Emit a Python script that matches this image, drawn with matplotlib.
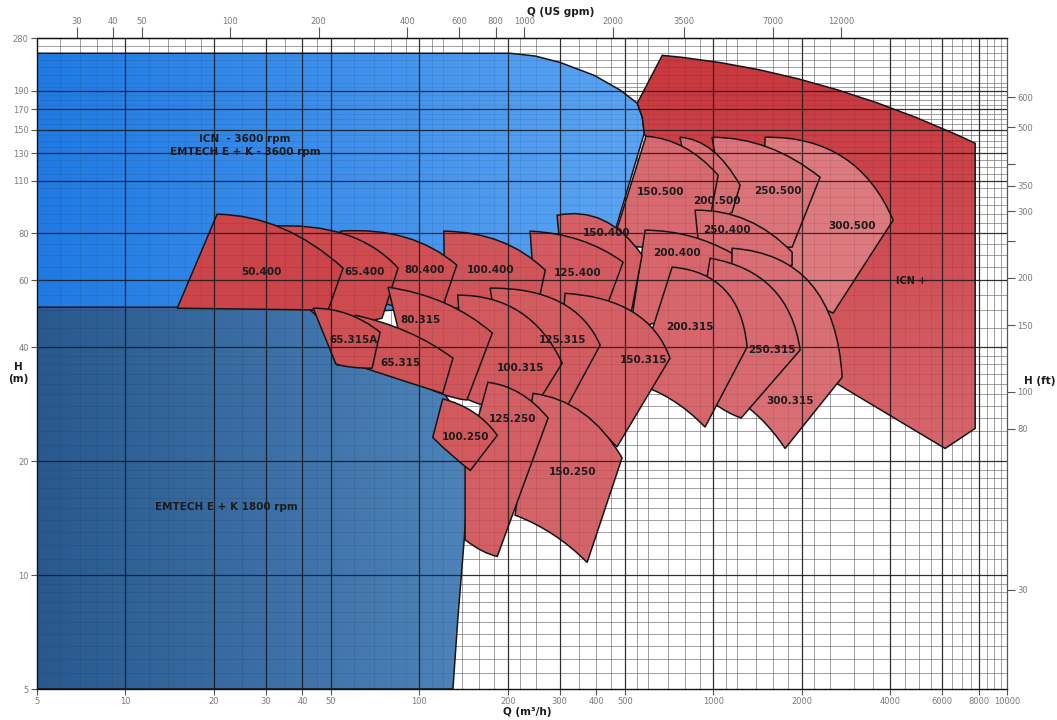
import numpy as np
import matplotlib
matplotlib.use("Agg")
import matplotlib.pyplot as plt
from matplotlib.path import Path
from matplotlib.patches import PathPatch
from matplotlib.ticker import NullLocator

# ---- pump ranges, flow Q in m3/h, head H in m ----
# each outline: top-left corner, middle of the top curve, top-right corner,
# bottom-right corner, middle of the bottom curve, bottom-left corner
zone_names = ["300.500", "250.500", "200.500", "150.500",
              "250.400", "200.400", "150.400", "125.400", "100.400", "80.400", "65.400", "50.400",
              "300.315", "250.315", "200.315", "150.315", "125.315", "100.315", "80.315", "65.315", "65.315A",
              "150.250", "125.250", "100.250"]

zone_top_left = [(1500, 143.4), (990, 143.4), (770, 143.4), (590, 144.3),
                 (867, 92.0), (586, 81.5), (294, 89.2), (238, 81.0), (121, 81.0), (53.7, 81.0), (31.0, 83.5), (20.5, 89.8),
                 (1158, 73.0), (975, 68.7), (724, 65.1), (313, 55.5), (174, 57.3), (135, 54.9), (78.2, 57.6), (60.4, 48.6), (43.5, 50.7),
                 (243.5, 30.2), (171, 32.3), (120, 29.2)]
zone_top_mid = [(2763, 127.0), (1535, 134.9), (990, 132.5), (795, 134.9),
                (1302, 86.6), (833, 78.6), (422, 86.6), (352, 76.7), (188, 76.2), (89.3, 78.1), (55.8, 79.5), (34.1, 82.5),
                (2150, 58.7), (1584, 57.3), (1096, 56.6), (533, 49.5), (301, 52.6), (220, 49.5), (122, 52.3), (91.5, 43.8), (57.2, 48.9),
                (360, 26.8), (220, 30.2), (153, 26.9)]
zone_top_right = [(4088, 86.6), (2307, 112.4), (1233, 107.1), (1038, 113.8),
                  (1853, 71.3), (1158, 70.8), (572, 70.0), (493, 67.1), (268, 63.9), (134, 65.9), (84.6, 64.7), (55.0, 64.7),
                  (2742, 33.3), (1973, 39.3), (1302, 40.0), (712, 37.4), (412, 40.5), (306, 36.3), (177, 43.6), (130, 37.4), (73.5, 43.8),
                  (489, 20.4), (274, 26.0), (184, 23.4)]
zone_bottom_right = [(2555, 49.2), (1853, 73.5), (1158, 90.9), (960, 82.5),
                     (1853, 65.9), (1167, 67.1), (521, 47.7), (435, 51.6), (257, 54.9), (120, 51.3), (74.6, 47.7), (48.9, 50.1),
                     (1754, 21.6), (1243, 26.0), (937, 24.6), (470, 21.8), (313, 27.3), (238, 26.5), (145, 29.0), (120, 30.2), (69.0, 35.2),
                     (372, 10.8), (184, 11.2), (149, 18.9)]
zone_bottom_mid = [(1897, 56.6), (1442, 76.7), (990, 85.5), (770, 74.4),
                   (1333, 63.9), (833, 51.6), (412, 49.5), (325, 51.6), (188, 53.2), (92.9, 50.7), (59.0, 46.6), (27.2, 50.4),
                   (1442, 26.0), (1014, 28.3), (724, 29.0), (366, 25.7), (247, 29.0), (185, 27.3), (117.5, 30.2), (89.3, 32.5), (59.0, 35.4),
                   (285, 12.8), (163, 11.6), (129, 20.7)]
zone_bottom_left = [(1442, 70.0), (1096, 89.2), (880, 85.5), (452, 74.4),
                    (901, 67.9), (521, 44.4), (313, 53.2), (247, 53.2), (122.2, 50.1), (73.5, 52.6), (45.9, 47.7), (15.0, 50.7),
                    (1140, 29.9), (833, 32.7), (542, 32.1), (289, 27.3), (196, 30.8), (143, 29.3), (92.9, 33.1), (63.8, 35.4), (52.0, 36.1),
                    (211.5, 14.4), (143, 12.4), (111, 23.1)]
zone_left_mid = [None] * 22 + [(143, 19.5), None]
zone_label_at = [(2965, 83.5), (1661, 103.3), (1030, 97.2), (659, 102.6),
                 (1113, 81.5), (753, 70.8), (432, 80.0), (346, 62.7), (174, 63.9), (104.5, 63.9), (65.3, 63.1), (29.1, 63.1),
                 (1824, 28.8), (1584, 39.3), (833, 45.2), (577, 37.0), (308, 41.7), (220, 35.2), (100.5, 47.1), (86, 36.3), (59.5, 41.7),
                 (333, 18.7), (207, 25.8), (143, 23.1)]

# ICN+ envelope
icn_plus_top_left = (670, 236)
icn_plus_top_mid = (2274, 198)
icn_plus_q = [7774, 7774, 6143, 2657, 1443, 659, 582, 573, 551]
icn_plus_h = [138.3, 24.4, 21.6, 31.9, 56.6, 117.3, 146.9, 161.9, 176.4]

# 3600 rpm and 1800 rpm envelopes
blue_3600_q = [5, 204, 248, 301, 393, 482, 551, 573, 582, 453, 301, 50, 5]
blue_3600_h = [239, 239, 235, 226, 209, 191, 176.4, 161.9, 146.9, 76.7, 53.2, 49, 49]
blue_1800_q = [5, 41.5, 45.2, 48.5, 50.9, 52.5, 86, 117.5, 158, 147, 142, 135, 130, 5]
blue_1800_h = [51.0, 51.0, 48.0, 43.8, 39.3, 35.9, 34.8, 31.2, 22.7, 18.9, 12.4, 7.6, 5, 5]

# axes ticks
q_ticks = [5, 10, 20, 30, 40, 50, 100, 200, 300, 400, 500, 1000, 2000, 4000, 6000, 8000, 10000]
h_ticks = [5, 10, 20, 40, 60, 80, 110, 130, 150, 170, 190, 262]
h_tick_labels = ["5", "10", "20", "40", "60", "80", "110", "130", "150", "170", "190", "280"]
gpm_ticks = [30, 40, 50, 100, 200, 400, 600, 800, 1000, 2000, 3500, 7000, 12000]
ft_ticks = [30, 80, 100, 150, 200, 250, 300, 350, 400, 500, 600]
ft_tick_labels = ["30", "80", "100", "150", "200", "", "300", "350", "", "500", "600"]

major_q = [10, 20, 30, 40, 50, 100, 200, 300, 500, 1000, 2000, 4000, 6000, 8000]
minor_q = [6, 7, 8, 9, 12, 14, 16, 18, 25, 35, 45, 60, 70, 80, 90, 110, 120, 140, 160, 180,
           220, 250, 350, 400, 450, 550, 600, 700, 800, 900, 1100, 1200, 1400, 1600, 1800,
           2200, 2500, 3000, 3500, 4500, 5000, 5500, 6500, 7000, 7500, 8500, 9000, 9500]
major_h = [10, 20, 40, 60, 80, 110, 130, 150, 170, 190]
minor_h = ([5.5, 6, 6.5, 7, 7.5, 8, 8.5, 9, 9.5] + list(range(11, 20)) + list(range(22, 40, 2))
           + [45, 50, 55, 65, 70, 75, 85, 90, 95, 100, 105, 115, 120, 125, 135, 140, 145,
              155, 160, 165, 175, 180, 185, 195, 200, 210, 220, 230, 240, 250])

M3H_TO_GPM = 4.4029
M_TO_FT = 3.2808

zone_colors = ["#dc7a80", "#da747a", "#d96f75", "#d76a70",
               "#d86e74", "#d6666c", "#d46066", "#d25a60", "#d0555a", "#cf5055", "#cd4a4f", "#cb4449",
               "#d96f75", "#d76a70", "#d6666c", "#d46066", "#d35c61", "#d2595e", "#d1565b", "#d05358", "#cf5055",
               "#d5636a", "#d35e63", "#d2595e"]


def ctrl(p0, pm, p2):
    # control point of the quadratic curve through p0, pm (t=0.5) and p2 on log-log axes
    l0, lm, l2 = np.log10(p0), np.log10(pm), np.log10(p2)
    return tuple(10 ** (2 * lm - (l0 + l2) / 2))


def zone_path(tl, tm, tr, br, bm, bl, lm=None):
    verts = [tl, ctrl(tl, tm, tr), tr, br, ctrl(br, bm, bl), bl]
    codes = [Path.MOVETO, Path.CURVE3, Path.CURVE3, Path.LINETO, Path.CURVE3, Path.CURVE3]
    if lm is not None:
        verts.append(lm)
        codes.append(Path.LINETO)
    verts.append(tl)
    codes.append(Path.CLOSEPOLY)
    return Path(verts, codes)


def gradient(c0, c1, a0, a1, vertical=False, n=256):
    t = np.clip((np.linspace(0, 1, n) - a0) / (a1 - a0), 0, 1)
    c0, c1 = np.array(c0) / 255, np.array(c1) / 255
    g = c0[None, :] * (1 - t[:, None]) + c1[None, :] * t[:, None]
    return g[::-1, None, :] if vertical else g[None, :, :]


fig = plt.figure(figsize=(10.57, 7.2), dpi=100)
ax = fig.add_axes([0.035, 0.043, 0.918, 0.904])
ax.set_xscale("log")
ax.set_yscale("log")
ax.set_xlim(5, 10000)
ax.set_ylim(5, 262)
ax.set_autoscale_on(False)


def add_region(path, z, color=None, grad=None):
    patch = PathPatch(path, facecolor=color if color else "none", edgecolor="#151515",
                      lw=1.1, zorder=z)
    ax.add_patch(patch)
    if grad is not None:
        im = ax.imshow(grad, extent=(0, 1, 0, 1), transform=ax.transAxes, aspect="auto",
                       interpolation="bilinear", zorder=z - 0.001)
        im.set_clip_path(patch)


# grid below the filled areas
for v in minor_q + major_q:
    ax.axvline(v, color="#8a8a8a", lw=0.5, zorder=0.5)
for v in minor_h + major_h:
    ax.axhline(v, color="#8a8a8a", lw=0.5, zorder=0.5)

# speed envelopes
add_region(Path(np.array(list(zip(blue_3600_q, blue_3600_h)))), 1.0,
           grad=gradient((32, 122, 226), (92, 164, 242), 0.0, 0.62))
add_region(Path(np.array(list(zip(blue_1800_q, blue_1800_h)))), 1.1,
           grad=gradient((40, 88, 142), (78, 132, 186), 0.0, 0.45))

# ICN+ envelope
icn_verts = [icn_plus_top_left, ctrl(icn_plus_top_left, icn_plus_top_mid, (icn_plus_q[0], icn_plus_h[0])),
             (icn_plus_q[0], icn_plus_h[0])] + list(zip(icn_plus_q[1:], icn_plus_h[1:])) + [icn_plus_top_left]
icn_codes = [Path.MOVETO, Path.CURVE3, Path.CURVE3] + [Path.LINETO] * (len(icn_plus_q) - 1) + [Path.CLOSEPOLY]
add_region(Path(icn_verts, icn_codes), 2.0,
           grad=gradient((215, 104, 110), (200, 56, 63), 0.35, 0.95, vertical=True))

# pump ranges, back to front
for i, name in enumerate(zone_names):
    path = zone_path(zone_top_left[i], zone_top_mid[i], zone_top_right[i],
                     zone_bottom_right[i], zone_bottom_mid[i], zone_bottom_left[i], zone_left_mid[i])
    add_region(path, 3.0 + i * 0.01, color=zone_colors[i])
    ax.text(*zone_label_at[i], name, ha="center", va="center", fontsize=7.5,
            fontweight="bold", color="#1c1c1c", zorder=10)

# grid lines drawn over the fills
for v in minor_q:
    ax.axvline(v, color="k", lw=0.5, alpha=0.1, zorder=7)
for v in minor_h:
    ax.axhline(v, color="k", lw=0.5, alpha=0.1, zorder=7)
for v in major_q:
    ax.axvline(v, color="#111111", lw=0.9, alpha=0.8, zorder=8)
for v in major_h:
    ax.axhline(v, color="#111111", lw=0.9, alpha=0.8, zorder=8)

ax.text(25.5, 136.6, "ICN  - 3600 rpm\nEMTECH E + K - 3600 rpm", ha="center", va="center",
        fontsize=7.5, fontweight="bold", color="#1c1c1c", linespacing=1.35, zorder=10)
ax.text(22.0, 15.1, "EMTECH E + K 1800 rpm", ha="center", va="center",
        fontsize=7.5, fontweight="bold", color="#1c1c1c", zorder=10)
ax.text(4707, 59.7, "ICN +", ha="center", va="center",
        fontsize=7, fontweight="bold", color="#1c1c1c", zorder=10)

# axes and ticks
tick_style = dict(direction="out", length=4, width=0.8, color="#555555",
                  labelsize=6, labelcolor="#7a7a7a", pad=2)
ax.set_xticks(q_ticks)
ax.set_xticklabels([str(t) for t in q_ticks])
ax.set_yticks(h_ticks)
ax.set_yticklabels(h_tick_labels)
ax.xaxis.set_minor_locator(NullLocator())
ax.yaxis.set_minor_locator(NullLocator())
ax.tick_params(axis="both", which="major", **tick_style)
for side in ["left", "bottom", "top"]:
    ax.spines[side].set_color("#111111")
    ax.spines[side].set_linewidth(1.0)
ax.spines["right"].set_color("#555555")

gpm = ax.secondary_xaxis("top", functions=(lambda q: q * M3H_TO_GPM, lambda g: g / M3H_TO_GPM))
gpm.set_xticks(gpm_ticks)
gpm.set_xticklabels([str(t) for t in gpm_ticks])
gpm.xaxis.set_minor_locator(NullLocator())
gpm.tick_params(axis="x", which="major", direction="out", length=8, width=0.8, color="#555555",
                labelsize=6, labelcolor="#7a7a7a", pad=1)

ft = ax.secondary_yaxis("right", functions=(lambda h: h * M_TO_FT, lambda f: f / M_TO_FT))
ft.set_yticks(ft_ticks)
ft.set_yticklabels(ft_tick_labels)
ft.yaxis.set_minor_locator(NullLocator())
ft.tick_params(axis="y", which="major", direction="out", length=6, width=0.8, color="#555555",
               labelsize=6, labelcolor="#7a7a7a", pad=1)
ft.spines["right"].set_color("#555555")

fig.text(0.53, 0.983, "Q (US gpm)", ha="center", va="center", fontsize=7.5, fontweight="bold", color="#1c1c1c")
fig.text(0.4986, 0.011, "Q (m³/h)", ha="center", va="center", fontsize=7.5, fontweight="bold", color="#1c1c1c")
fig.text(0.017, 0.482, "H\n(m)", ha="center", va="center", fontsize=7.5, fontweight="bold", color="#1c1c1c")
fig.text(0.984, 0.471, "H (ft)", ha="center", va="center", fontsize=7.5, fontweight="bold", color="#1c1c1c")

fig.savefig("out.png", dpi=100)
